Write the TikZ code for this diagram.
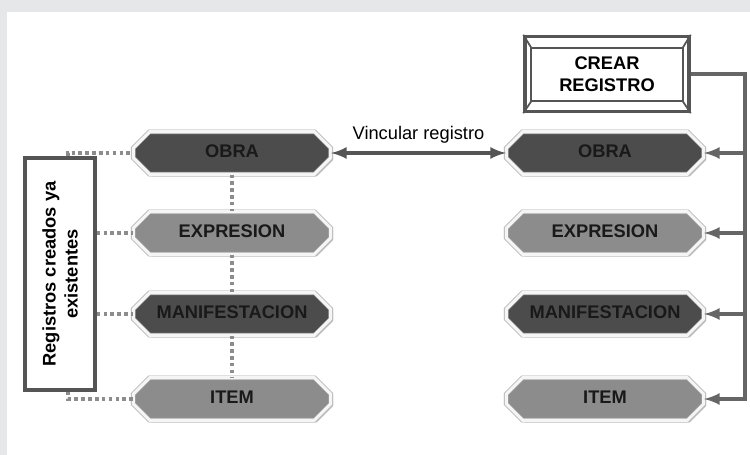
\documentclass[tikz,border=0pt]{standalone}
\usepackage{fontspec}
\setmainfont{Liberation Sans}
\usetikzlibrary{calc,positioning,arrows,shapes.misc,shadows}

\definecolor{bggray}{HTML}{E6E7E8}
\definecolor{framegray}{HTML}{555555}

\tikzset{
  entity/.style={chamfered rectangle, chamfered rectangle xsep=0.2cm,
    draw=gray!70, double=gray!8, double distance=1.8pt,
    text width=3.55cm, align=center, text height=0.25cm, text depth=0.05cm,
    inner xsep=0pt, inner ysep=0.15cm,
    font=\fontsize{10.4}{12}\selectfont\bfseries, text=black!90,
    drop shadow={shadow xshift=1.3pt, shadow yshift=-1.3pt, fill=gray!45, opacity=0.9}},
  dotline/.style={black!45, line width=2pt, dash pattern=on 2pt off 1.9pt},
  busline/.style={black!60, line width=2pt, >=latex},
}

\begin{document}
\begin{tikzpicture}[x=0.02cm, y=-0.02cm]

  % background
  \fill[bggray] (0,0) rectangle (750,455);
  \fill[white] (7,12) rectangle (750,455);

  \foreach \n/\lbl/\ypos/\tone in {1/OBRA/153/black!70, 2/EXPRESION/233/black!45,
      3/MANIFESTACION/314/black!70, 4/ITEM/399/black!45}{
    \node [entity, fill=\tone] at (232,\ypos) (left_\n) {\lbl};
    \node [entity, fill=\tone] at (605,\ypos) (right_\n) {\lbl};
  }

  % existing records box
  \node [draw=framegray, line width=2pt, rotate=90, minimum width=4.64cm,
    minimum height=1.4cm, align=center, font=\fontsize{10.4}{12.5}\selectfont\bfseries]
    at (60,274) (regs) {Registros creados ya\\existentes};

  \draw[dotline] ($(regs.east)+(8,0)$) |- (left_1.west);
  \draw[dotline] ($(regs.west)+(8,0)$) |- (left_4.west);
  \foreach \n in {2,3}
    \draw[dotline] (regs.south |- left_\n.west) -- (left_\n.west);
  \foreach \a/\b in {1/2,2/3,3/4}
    \draw[dotline] (left_\a.south) -- (left_\b.north);

  % link between both OBRA nodes
  \draw[<->, >=latex, framegray, line width=2pt] (left_1.east) --
    node[above=1pt, text=black, font=\fontsize{10.4}{12}\selectfont] {Vincular registro}
    (right_1.west);

  % create record
  \node [draw=framegray, line width=2pt, minimum width=3.28cm, minimum height=1.5cm,
    align=center, font=\fontsize{10.4}{12.5}\selectfont\bfseries] at (607,74) (crear)
    {CREAR\\REGISTRO};
  \draw[framegray, line width=1.4pt] ($(crear.north west)+(8,13)$) rectangle
    ($(crear.south east)+(-8,-12)$);
  \draw[framegray, line width=1pt]
    (crear.north west) -- ($(crear.north west)+(8,13)$)
    (crear.north east) -- ($(crear.north east)+(-8,13)$)
    (crear.south west) -- ($(crear.south west)+(8,-12)$)
    (crear.south east) -- ($(crear.south east)+(-8,-12)$);

  \coordinate (bus) at (745,74);
  \draw[busline, ->] (crear.east) -- (bus) |- (right_4.east);
  \foreach \n in {1,2,3}
    \draw[busline, ->] (bus |- right_\n.east) -- (right_\n.east);

\end{tikzpicture}
\end{document}
